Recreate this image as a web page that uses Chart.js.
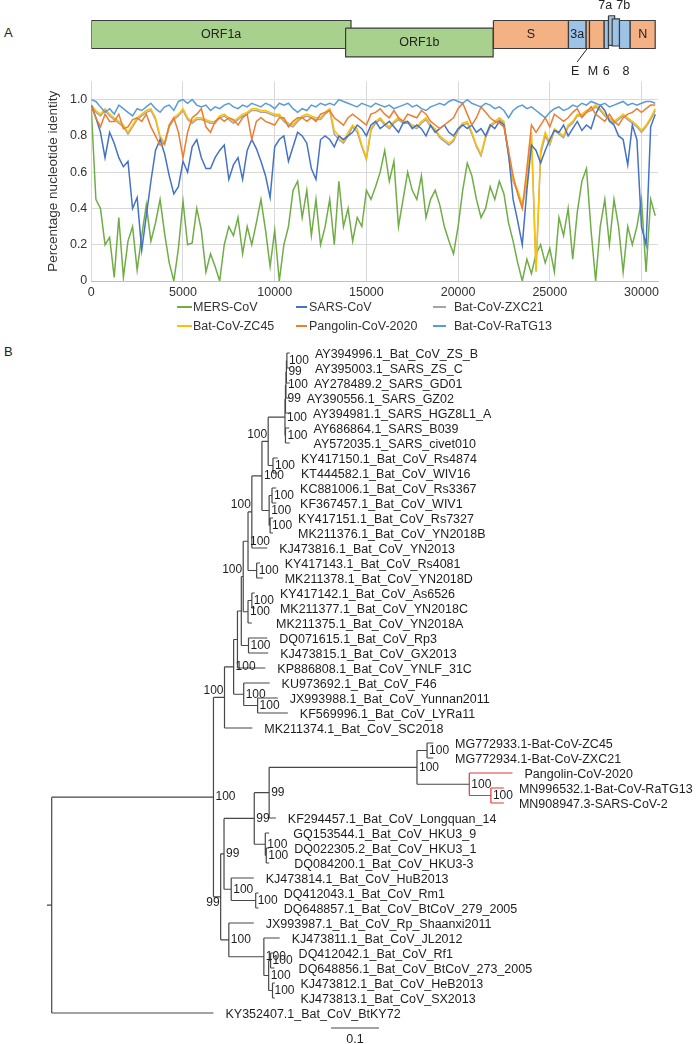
<!DOCTYPE html>
<html>
<head>
<meta charset="utf-8">
<script src="https://cdn.jsdelivr.net/npm/chart.js@4.4.1/dist/chart.umd.min.js"></script>
<style>
html,body{margin:0;padding:0;background:#fff;}
#page{position:relative;width:699px;height:1044px;overflow:hidden;font-family:"Liberation Sans",Arial,sans-serif;color:#222;}
canvas{position:absolute;left:0;}
.panel{position:absolute;left:4px;font-size:13px;line-height:16px;}
#legend{position:absolute;left:0;top:0;width:699px;height:0;font-size:12.5px;color:#333;}
.item{position:absolute;white-space:nowrap;line-height:16px;}
</style>
</head>
<body>
<div id="page">
  <div class="panel" style="top:25px">A</div>
  <div class="panel" style="top:344px">B</div>
  <canvas id="genes" width="699" height="80" style="top:0"></canvas>
  <canvas id="sim" width="699" height="231" style="top:70px"></canvas>
  <div id="legend"></div>
  <canvas id="tree" width="699" height="704" style="top:340px"></canvas>
</div>
<script>
// ==================== data ====================
// genome map (alignment coordinates)
const geneNames  = ['ORF1a','ORF1b','S','3a','E','M','6','7a','7b','8','N'];
const geneStart  = [0, 13865, 21927, 26018, 26984, 27164, 27966, 28200, 28402, 28800, 29384];
const geneEnd    = [14160, 21911, 26018, 26984, 27164, 27966, 28200, 28538, 28800, 29384, 30747];
const geneTop    = [0, 0.27, 0, 0, 0, 0, 0, -0.17, -0.06, 0, 0];
const geneBottom = [1, 1.3, 1, 1, 1, 1, 1, 0.89, 0.91, 1, 1];
const geneKind   = ['orf','orf','str','acc','str','str','acc','acc','acc','acc','str'];

// similarity plot: window positions and identity values
const positions = [
  0,250,500,750,1000,1250,1500,1750,2000,2250,
  2500,2750,3000,3250,3500,3750,4000,4250,4500,4750,
  5000,5250,5500,5750,6000,6250,6500,6750,7000,7250,
  7500,7750,8000,8250,8500,8750,9000,9250,9500,9750,
  10000,10250,10500,10750,11000,11250,11500,11750,12000,12250,
  12500,12750,13000,13250,13500,13750,14000,14250,14500,14750,
  15000,15250,15500,15750,16000,16250,16500,16750,17000,17250,
  17500,17750,18000,18250,18500,18750,19000,19250,19500,19750,
  20000,20250,20500,20750,21000,21250,21500,21750,22000,22250,
  22500,22750,23000,23250,23500,23750,24000,24250,24500,24750,
  25000,25250,25500,25750,26000,26250,26500,26750,27000,27250,
  27500,27750,28000,28250,28500,28750,29000,29250,29500,29750,
  30000,30250,30500,30750];
const mers = [
  0.95,0.45,0.40,0.20,0.24,0.02,0.35,0.02,0.22,0.30,
  0.06,0.25,0.42,0.22,0.32,0.45,0.26,0.10,0.00,0.18,
  0.44,0.20,0.21,0.40,0.28,0.05,0.15,0.08,0.00,0.20,
  0.30,0.25,0.35,0.15,0.30,0.20,0.32,0.45,0.28,0.08,
  0.28,0.00,0.20,0.30,0.50,0.55,0.35,0.50,0.25,0.45,
  0.20,0.30,0.45,0.20,0.55,0.30,0.40,0.22,0.35,0.30,
  0.50,0.45,0.52,0.60,0.72,0.55,0.66,0.30,0.45,0.60,
  0.50,0.45,0.58,0.35,0.45,0.50,0.42,0.30,0.22,0.15,
  0.30,0.50,0.65,0.58,0.45,0.35,0.40,0.52,0.45,0.55,
  0.48,0.32,0.22,0.10,0.00,0.12,0.04,0.15,0.20,0.10,
  0.18,0.05,0.35,0.25,0.40,0.12,0.38,0.55,0.62,0.28,
  0.00,0.30,0.45,0.20,0.45,0.30,0.05,0.30,0.20,0.30,
  0.45,0.05,0.45,0.36];
const sars = [
  0.97,0.90,0.82,0.68,0.82,0.76,0.68,0.63,0.66,0.40,
  0.46,0.17,0.36,0.55,0.72,0.78,0.70,0.58,0.48,0.52,
  0.66,0.60,0.74,0.78,0.68,0.62,0.62,0.68,0.72,0.75,
  0.56,0.64,0.68,0.56,0.72,0.78,0.73,0.66,0.58,0.46,
  0.74,0.78,0.80,0.66,0.74,0.82,0.80,0.76,0.62,0.56,
  0.78,0.80,0.78,0.74,0.80,0.78,0.80,0.82,0.86,0.84,
  0.80,0.86,0.88,0.84,0.86,0.88,0.85,0.82,0.87,0.88,
  0.84,0.86,0.84,0.80,0.86,0.82,0.84,0.86,0.82,0.80,
  0.84,0.86,0.84,0.86,0.82,0.84,0.80,0.86,0.84,0.88,
  0.86,0.70,0.45,0.33,0.20,0.50,0.75,0.72,0.65,0.72,
  0.78,0.83,0.82,0.86,0.80,0.84,0.88,0.83,0.86,0.84,
  0.92,0.97,0.94,0.88,0.86,0.80,0.78,0.64,0.86,0.78,
  0.30,0.20,0.85,0.92];
const zxc21 = [
  0.96,0.93,0.91,0.94,0.91,0.89,0.87,0.85,0.81,0.85,
  0.89,0.91,0.93,0.94,0.89,0.79,0.75,0.85,0.89,0.91,
  0.94,0.89,0.87,0.89,0.89,0.88,0.87,0.87,0.90,0.91,
  0.89,0.87,0.89,0.91,0.92,0.94,0.94,0.93,0.93,0.92,
  0.91,0.91,0.88,0.86,0.85,0.88,0.90,0.91,0.90,0.89,
  0.89,0.92,0.94,0.81,0.78,0.76,0.80,0.85,0.82,0.74,
  0.67,0.83,0.87,0.89,0.86,0.84,0.87,0.89,0.87,0.87,
  0.85,0.84,0.87,0.89,0.85,0.83,0.79,0.77,0.75,0.77,
  0.83,0.86,0.87,0.81,0.74,0.69,0.79,0.85,0.87,0.89,
  0.87,0.69,0.55,0.49,0.41,0.54,0.80,0.06,0.70,0.80,
  0.75,0.83,0.81,0.79,0.85,0.87,0.91,0.91,0.93,0.94,
  0.96,0.94,0.91,0.89,0.87,0.89,0.91,0.89,0.87,0.85,
  0.82,0.85,0.89,0.94];
const zc45 = [
  0.97,0.94,0.92,0.95,0.92,0.90,0.88,0.86,0.82,0.86,
  0.90,0.92,0.94,0.95,0.90,0.80,0.76,0.86,0.90,0.92,
  0.95,0.90,0.88,0.90,0.90,0.89,0.88,0.88,0.91,0.92,
  0.90,0.88,0.90,0.92,0.93,0.95,0.95,0.94,0.94,0.93,
  0.92,0.92,0.89,0.87,0.86,0.89,0.91,0.92,0.91,0.90,
  0.90,0.93,0.95,0.83,0.80,0.77,0.82,0.86,0.84,0.75,
  0.68,0.84,0.88,0.90,0.87,0.85,0.88,0.90,0.88,0.88,
  0.86,0.85,0.88,0.90,0.86,0.84,0.80,0.78,0.76,0.78,
  0.84,0.87,0.88,0.82,0.75,0.70,0.80,0.86,0.88,0.90,
  0.88,0.70,0.56,0.50,0.42,0.55,0.82,0.05,0.72,0.82,
  0.76,0.84,0.82,0.80,0.86,0.88,0.92,0.92,0.94,0.95,
  0.97,0.95,0.92,0.90,0.88,0.90,0.92,0.90,0.88,0.86,
  0.83,0.86,0.90,0.95];
const pangolin = [
  0.96,0.90,0.85,0.92,0.88,0.88,0.92,0.84,0.85,0.89,
  0.90,0.88,0.92,0.85,0.80,0.75,0.76,0.86,0.90,0.82,
  0.68,0.82,0.90,0.92,0.95,0.85,0.82,0.88,0.90,0.88,
  0.90,0.89,0.86,0.90,0.92,0.78,0.88,0.90,0.88,0.87,
  0.86,0.90,0.90,0.85,0.88,0.90,0.90,0.88,0.90,0.88,
  0.92,0.93,0.94,0.90,0.88,0.86,0.90,0.92,0.90,0.88,
  0.86,0.92,0.93,0.95,0.92,0.90,0.94,0.90,0.88,0.92,
  0.91,0.90,0.94,0.92,0.88,0.86,0.84,0.86,0.88,0.90,
  0.95,0.98,0.92,0.86,0.90,0.96,0.93,0.90,0.88,0.87,
  0.85,0.72,0.58,0.48,0.40,0.62,0.86,0.82,0.86,0.90,
  0.85,0.92,0.90,0.88,0.90,0.93,0.95,0.90,0.93,0.96,
  0.92,0.90,0.88,0.92,0.88,0.86,0.90,0.92,0.93,0.95,
  0.93,0.95,0.97,0.97];
const ratg13 = [
  1.00,0.99,0.96,0.93,0.95,0.92,0.97,0.95,0.93,0.91,
  0.95,0.94,0.96,0.98,0.95,0.93,0.96,0.97,0.94,0.99,
  1.00,0.98,1.00,0.97,0.96,0.97,0.94,0.96,0.95,0.97,
  0.98,0.96,0.95,0.97,0.96,0.98,0.97,0.96,0.98,0.97,
  0.95,0.98,0.97,0.98,0.95,0.93,0.95,0.94,0.97,0.96,
  0.98,0.97,0.98,0.97,1.00,0.99,0.98,0.97,0.96,0.98,
  0.97,0.96,0.98,0.97,0.96,0.97,0.95,0.96,0.97,0.98,
  0.96,0.97,0.95,0.94,0.96,0.97,0.98,0.97,0.99,1.00,
  0.99,0.98,1.00,0.98,0.97,0.96,0.98,0.97,0.95,0.96,
  0.94,0.90,0.94,0.96,0.97,0.95,0.96,0.94,0.92,0.90,
  0.93,0.95,0.96,0.94,0.95,0.97,0.96,0.98,0.97,0.99,
  0.98,0.97,0.98,0.96,0.97,0.98,0.99,0.97,0.98,0.97,
  0.98,0.99,0.99,0.98];
const simLabels = ['MERS-CoV','SARS-CoV','Bat-CoV-ZXC21','Bat-CoV-ZC45','Pangolin-CoV-2020','Bat-CoV-RaTG13'];
const simSeries = [mers, sars, zxc21, zc45, pangolin, ratg13];
const yTicks = [0, 0.2, 0.4, 0.6, 0.8, 1.0];
const xTicks = [0, 5000, 10000, 15000, 20000, 25000, 30000];

// phylogeny (Newick pieces: branch lengths, bootstrap values)
const sarsCluster = "(((((AY394996.1_Bat_CoV_ZS_B:0.006,AY395003.1_SARS_ZS_C:0.006)100:0.001,AY278489.2_SARS_GD01:0.007)99:0.001,AY390556.1_SARS_GZ02:0.008)100:0.001,AY394981.1_SARS_HGZ8L1_A:0.009)99:0.001,(AY686864.1_SARS_B039:0.008,AY572035.1_SARS_civet010:0.009)100:0.001)100";
const wivClade = "(" + sarsCluster + ":0.035,(KY417150.1_Bat_CoV_Rs4874:0.010,KT444582.1_Bat_CoV_WIV16:0.010)100:0.010)100";
const rsClade = "((KC881006.1_Bat_CoV_Rs3367:0.009,KF367457.1_Bat_CoV_WIV1:0.009)100:0.006,(KY417151.1_Bat_CoV_Rs7327:0.006,MK211376.1_Bat_CoV_YN2018B:0.006)100:0.002)100";
const cladeJ = "(" + wivClade + ":0.013," + rsClade + ":0.015)100";
const cladeL = "(" + cladeJ + ":0.021,KJ473816.1_Bat_CoV_YN2013:0.032)100";
const rs4081Clade = "(KY417143.1_Bat_CoV_Rs4081:0.007,MK211378.1_Bat_CoV_YN2018D:0.013)100";
const cladeM = "(" + cladeL + ":0.008," + rs4081Clade + ":0.018)100";
const ynClade = "((KY417142.1_Bat_CoV_As6526:0.006,MK211377.1_Bat_CoV_YN2018C:0.006)100:0.008,MK211375.1_Bat_CoV_YN2018A:0.008)100";
const cladeN = "(" + cladeM + ":0.010," + ynClade + ":0.010)100";
const rp3Clade = "(DQ071615.1_Bat_CoV_Rp3:0.039,KJ473815.1_Bat_CoV_GX2013:0.041)100";
const cladeD = "(" + cladeN + ":0.004," + rp3Clade + ":0.015)";
const cladeC = "(" + cladeD + ":0.008,KP886808.1_Bat_CoV_YNLF_31C:0.058)";
const f46Clade = "(KU973692.1_Bat_CoV_F46:0.054,(JX993988.1_Bat_CoV_Yunnan2011:0.042,KF569996.1_Bat_CoV_LYRa11:0.063)100:0.029)100";
const cladeB = "(" + cladeC + ":0.008," + f46Clade + ":0.021)100";
const sarsrClade = "(" + cladeB + ":0.019,MK211374.1_Bat_CoV_SC2018:0.058)100";
const cov2Clade = "((MG772933.1-Bat-CoV-ZC45:0.013,MG772934.1-Bat-CoV-ZXC21:0.013)100:0.021,(Pangolin-CoV-2020:0.090,(MN996532.1-Bat-CoV-RaTG13:0.027,MN908947.3-SARS-CoV-2:0.027)100:0.045)100:0.109)100";
const longquanClade = "(" + cov2Clade + ":0.308,KF294457.1_Bat_CoV_Longquan_14:0.014)99";
const hku3Clade = "(GQ153544.1_Bat_CoV_HKU3_9:0.008,(DQ022305.2_Bat_CoV_HKU3_1:0.006,DQ084200.1_Bat_CoV_HKU3-3:0.006)100:0.002)100";
const clade253 = "(" + longquanClade + ":0.031," + hku3Clade + ":0.023)99";
const hubClade = "(KJ473814.1_Bat_CoV_HuB2013:0.047,(DQ412043.1_Bat_CoV_Rm1:0.006,DQ648857.1_Bat_CoV_BtCoV_279_2005:0.006)100:0.051)100";
const clade223 = "(" + clade253 + ":0.063," + hubClade + ":0.015)99";
const rf1Clade = "((DQ412042.1_Bat_CoV_Rf1:0.008,DQ648856.1_Bat_CoV_BtCoV_273_2005:0.008)100:0.004,(KJ473812.1_Bat_CoV_HeB2013:0.005,KJ473813.1_Bat_CoV_SX2013:0.005)100:0.008)100";
const jlClade = "(KJ473811.1_Bat_CoV_JL2012:0.033," + rf1Clade + ":0.010)100";
const shaanxiClade = "(JX993987.1_Bat_CoV_Rp_Shaanxi2011:0.052," + jlClade + ":0.073)100";
const clade220 = "(" + clade223 + ":0.007," + shaanxiClade + ":0.017)99";
const ingroup = "(" + sarsrClade + ":0.023," + clade220 + ":0.015)100";
const newick = "(" + ingroup + ":0.337,KY352407.1_Bat_CoV_BtKY72:0.337);";
const scaleBarLength = 0.1;

// ==================== common ====================
const FONT = '"Liberation Sans", Arial, sans-serif';
Chart.defaults.font.family = FONT;
Chart.defaults.color = '#333';
Chart.defaults.animation = false;
const baseOpts = {responsive:false, devicePixelRatio:1, animation:false, events:[]};

// ==================== genome map ====================
const geneFill = {orf:'#a9d18e', str:'#f4b183', acc:'#9dc3e6'};
const insideLabels = ['ORF1a','ORF1b','S','3a','N'];
const calloutLabels = [
  {text:'7a', x:28020, y:-0.55}, {text:'7b', x:29002, y:-0.55},
  {text:'E', x:26383, y:1.84}, {text:'M', x:27349, y:1.84},
  {text:'6', x:28075, y:1.84}, {text:'8', x:29150, y:1.84}
];

const geneText = {
  id:'geneText',
  afterDatasetsDraw(chart){
    const {ctx, scales:{x, y}} = chart;
    ctx.save();
    ctx.fillStyle = '#222';
    ctx.font = '12.5px ' + FONT;
    ctx.textAlign = 'center';
    ctx.textBaseline = 'middle';
    insideLabels.forEach(name => {
      const i = geneNames.indexOf(name);
      ctx.fillText(name, x.getPixelForValue((geneStart[i] + geneEnd[i]) / 2),
                   y.getPixelForValue((geneTop[i] + geneBottom[i]) / 2));
    });
    calloutLabels.forEach(c => ctx.fillText(c.text, x.getPixelForValue(c.x), y.getPixelForValue(c.y)));
    // leader line for E
    ctx.strokeStyle = '#222'; ctx.lineWidth = 1;
    ctx.beginPath();
    ctx.moveTo(x.getPixelForValue(26493), y.getPixelForValue(1.48));
    ctx.lineTo(x.getPixelForValue(27022), y.getPixelForValue(1.02));
    ctx.stroke();
    ctx.restore();
  }
};

new Chart(document.getElementById('genes'), {
  type:'line',
  data:{
    datasets: geneNames.map((g, i) => ({
      label: g,
      data: [
        {x: geneStart[i], y: geneTop[i]}, {x: geneEnd[i], y: geneTop[i]},
        {x: geneEnd[i], y: geneBottom[i]}, {x: geneStart[i], y: geneBottom[i]},
        {x: geneStart[i], y: geneTop[i]}
      ],
      fill: 'shape',
      backgroundColor: geneFill[geneKind[i]],
      borderColor: '#3c3c3c',
      borderWidth: 1.2,
      pointRadius: 0,
      tension: 0,
      order: geneNames.length - i
    }))
  },
  options:{
    ...baseOpts,
    layout:{padding:{left:91.3, right:41, top:0, bottom:0}},
    plugins:{legend:{display:false}, tooltip:{enabled:false}},
    scales:{
      x:{type:'linear', display:false, min:0, max:30900},
      y:{type:'linear', display:false, min:-0.732, max:2.125, reverse:true}
    }
  },
  plugins:[geneText]
});

// ==================== similarity plot ====================
const simColors = ['#70ad47','#4472c4','#a5a5a5','#ffc000','#ed7d31','#5b9bd5'];
const simOrder  = [5, 2, 4, 3, 1, 0];   // RaTG13 on top

const simChart = new Chart(document.getElementById('sim'), {
  type:'line',
  data:{
    datasets: simLabels.map((label, k) => ({
      label,
      data: positions.map((p, i) => ({x: p, y: simSeries[k][i]})),
      borderColor: simColors[k],
      backgroundColor: simColors[k],
      borderWidth: 1.5,
      pointRadius: 0,
      tension: 0,
      fill: false,
      order: simOrder[k]
    }))
  },
  options:{
    ...baseOpts,
    layout:{padding:{left:40, right:41, top:5, bottom:0}},
    plugins:{legend:{display:false}, tooltip:{enabled:false}},
    scales:{
      x:{
        type:'linear', min:0, max:30900,
        grid:{color:'#d9d9d9', drawTicks:false},
        border:{color:'#bfbfbf'},
        afterBuildTicks(s){ s.ticks = xTicks.map(v => ({value:v})); },
        ticks:{padding:4, maxRotation:0, autoSkip:false, font:{size:12.5}, color:'#333',
               callback: v => String(v)},
        afterFit(s){ s.height = 20; }
      },
      y:{
        type:'linear', min:0, max:1.1,
        grid:{color:'#d9d9d9', drawTicks:false},
        border:{display:false},
        afterBuildTicks(s){ s.ticks = yTicks.map(v => ({value:v})); },
        ticks:{padding:4, font:{size:12.5}, color:'#333',
               callback: v => v === 0 ? '0' : Number(v).toFixed(1)},
        title:{display:true, text:'Percentage nucleotide identity', font:{size:13.5}, color:'#333',
               padding:{top:5, bottom:0}},
        afterFit(s){ s.width = 51.3; }
      }
    }
  }
});

// legend (3 columns x 2 rows)
const legendCols = [{swatch:177, width:15, text:193}, {swatch:296, width:11, text:309}, {swatch:433, width:13, text:454}];
const legendRows = [307, 326];
const legendBox = document.getElementById('legend');
simChart.data.datasets.forEach((ds, i) => {
  const col = legendCols[i % 3], top = legendRows[Math.floor(i / 3)];
  const sw = document.createElement('div');
  sw.style.cssText = `position:absolute;left:${col.swatch}px;top:${top - 1}px;width:${col.width}px;height:2px;background:${ds.borderColor}`;
  const tx = document.createElement('div');
  tx.className = 'item';
  tx.style.left = col.text + 'px';
  tx.style.top = (top - 8) + 'px';
  tx.textContent = ds.label;
  legendBox.append(sw, tx);
});

// ==================== phylogenetic tree ====================
function parseNewick(s){
  let i = 0;
  function node(){
    const n = {children:[], name:'', len:0};
    if (s[i] === '('){
      i++;
      n.children.push(node());
      while (s[i] === ','){ i++; n.children.push(node()); }
      i++; // ')'
    }
    while (i < s.length && !',():;'.includes(s[i])) n.name += s[i++];
    if (s[i] === ':'){
      i++;
      let num = '';
      while (i < s.length && !',();'.includes(s[i])) num += s[i++];
      n.len = parseFloat(num);
    }
    return n;
  }
  return node();
}

const tree = parseNewick(newick);
const leaves = [], internals = [];
(function place(n, x){
  n.x = x;
  if (!n.children.length){
    n.y = leaves.length; n.first = n.last = n.y;
    leaves.push(n);
    return;
  }
  n.children.forEach(c => place(c, x + c.len));
  const a = n.children[0], b = n.children[n.children.length - 1];
  n.y = (a.y + b.y) / 2;
  n.first = a.first; n.last = b.last;
  internals.push(n);
})(tree, 0);

// styling of specific clades (by leaf span)
const redClades = ['28-30'];
const bootLeftAbove = ['0-8', '0-13', '0-18', '0-25'];
const bootLeftBelow = ['26-43'];
const span = n => n.first + '-' + n.last;

const blackLines = [], redLines = [];
function seg(arr, x1, y1, x2, y2){ arr.push({x:x1, y:y1}, {x:x2, y:y2}, {x:x2, y:null}); }
(function walk(n, red){
  const own = red || redClades.includes(span(n));
  if (!n.children.length) return;
  const arr = own ? redLines : blackLines;
  seg(arr, n.x, n.children[0].y, n.x, n.children[n.children.length - 1].y);
  n.children.forEach(c => { seg(arr, n.x, c.y, c.x, c.y); walk(c, own); });
})(tree, false);
seg(blackLines, -0.010, tree.y, 0, tree.y);   // root stub

const scaleRow = leaves.length;          // one row below the last leaf
const scaleStart = 0.582;
const scaleLine = [{x:scaleStart, y:scaleRow}, {x:scaleStart + scaleBarLength, y:scaleRow}];

const treeText = {
  id:'treeText',
  afterDatasetsDraw(chart){
    const {ctx, scales:{x, y}} = chart;
    ctx.save();
    ctx.fillStyle = '#1e1e1e';
    ctx.textBaseline = 'middle';
    // bootstrap values
    ctx.font = '12px ' + FONT;
    const rightBoots = [];
    internals.forEach(n => {
      if (!n.name) return;
      const px = x.getPixelForValue(n.x), py = y.getPixelForValue(n.y);
      const sp = span(n);
      if (bootLeftAbove.includes(sp)){
        ctx.textAlign = 'right'; ctx.fillText(n.name, px - 1, py - 7);
      } else if (bootLeftBelow.includes(sp)){
        ctx.textAlign = 'right'; ctx.fillText(n.name, px - 1, py + 6);
      } else {
        ctx.textAlign = 'left'; ctx.fillText(n.name, px + 2, py);
        rightBoots.push({py, end: px + 2 + ctx.measureText(n.name).width});
      }
    });
    // leaf names
    ctx.font = '12.5px ' + FONT;
    ctx.textAlign = 'left';
    leaves.forEach(l => {
      const py = y.getPixelForValue(l.y);
      let lx = x.getPixelForValue(l.x) + 12;
      rightBoots.forEach(b => { if (Math.abs(b.py - py) < 11.5) lx = Math.max(lx, b.end + 6); });
      ctx.fillText(l.name, lx, py + 1.5);
    });
    // scale bar label
    ctx.textAlign = 'center';
    ctx.fillText(String(scaleBarLength), x.getPixelForValue(scaleStart + scaleBarLength / 2),
                 y.getPixelForValue(scaleRow + 0.75));
    ctx.restore();
  }
};

const lineStyle = {borderWidth:1.2, pointRadius:0, tension:0, fill:false, spanGaps:false};
new Chart(document.getElementById('tree'), {
  type:'line',
  data:{
    datasets:[
      {label:'branches', data:blackLines, borderColor:'#474747', ...lineStyle},
      {label:'clade', data:redLines, borderColor:'#e0393e', ...lineStyle},
      {label:'scale', data:scaleLine, borderColor:'#474747', ...lineStyle}
    ]
  },
  options:{
    ...baseOpts,
    layout:{padding:0},
    plugins:{legend:{display:false}, tooltip:{enabled:false}},
    scales:{
      x:{type:'linear', display:false, min:-0.10771, max:1.34854},
      y:{type:'linear', display:false, min:-0.8667, max:46.0667, reverse:true}
    }
  },
  plugins:[treeText]
});
</script>
</body>
</html>
